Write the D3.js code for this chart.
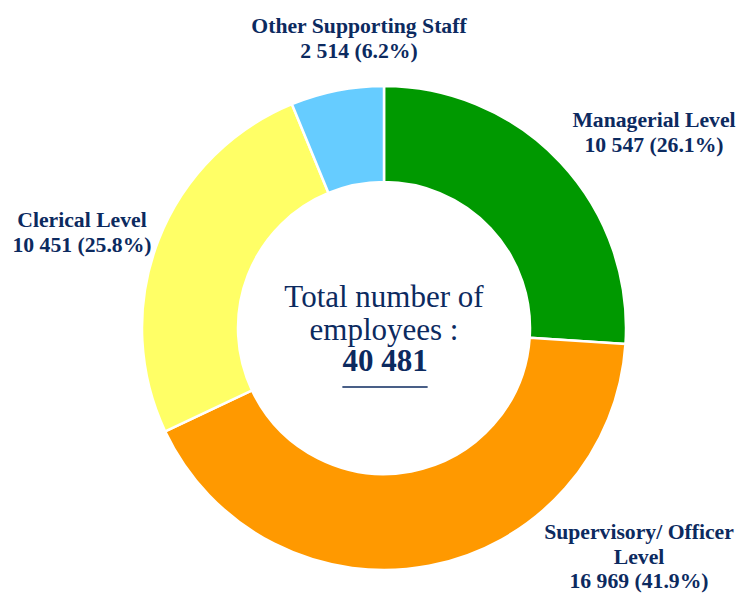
<!DOCTYPE html>
<html>
<head>
<meta charset="utf-8">
<script src="https://cdn.jsdelivr.net/npm/d3@7"></script>
<style>
  html, body { margin: 0; padding: 0; background: #fff; }
  svg { display: block; }
  svg text { font-family: "Liberation Serif", "Times New Roman", Times, serif; }
</style>
</head>
<body>
<div id="chart"></div>
<script>
// Data
const categories = ["Managerial Level", "Supervisory/ Officer Level", "Clerical Level", "Other Supporting Staff"];
const values = [10547, 16969, 10451, 2514];
const colors = ["#009900", "#ff9900", "#ffff66", "#66ccff"];
// how each category name wraps in its label
const nameLines = [["Managerial Level"], ["Supervisory/ Officer", "Level"], ["Clerical Level"], ["Other Supporting Staff"]];

const width = 741, height = 593;
const cx = 384, cy = 328;
const outerR = 242, innerR = 146;
const textColor = "#0c2a5f";

// label anchor (centre x, first baseline y) for each slice
const labelPos = [[654, 127], [639, 539], [82, 227], [359, 33]];

const total = d3.sum(values);
const locale = d3.formatLocale({ decimal: ".", thousands: " ", grouping: [3], currency: ["", ""] });
const fmtNum = locale.format(",d");
const fmtPct = d3.format(".1%");

const svg = d3.select("#chart")
  .append("svg")
  .attr("width", width)
  .attr("height", height);

const g = svg.append("g").attr("transform", `translate(${cx},${cy})`);

const pie = d3.pie().sort(null).value(d => d);
const arc = d3.arc().innerRadius(innerR).outerRadius(outerR);

g.selectAll("path")
  .data(pie(values))
  .join("path")
  .attr("d", arc)
  .attr("fill", (d, i) => colors[i])
  .attr("stroke", "#fff")
  .attr("stroke-width", 2.5)
  .attr("stroke-linejoin", "round");

// slice labels
const labels = svg.append("g")
  .attr("font-weight", "bold")
  .attr("font-size", 21.7)
  .attr("fill", textColor)
  .attr("text-anchor", "middle");

values.forEach((v, i) => {
  const lines = nameLines[i].concat([`${fmtNum(v)} (${fmtPct(v / total)})`]);
  const t = labels.append("text")
    .attr("x", labelPos[i][0])
    .attr("y", labelPos[i][1]);
  lines.forEach((line, j) => {
    t.append("tspan")
      .attr("x", labelPos[i][0])
      .attr("dy", j === 0 ? 0 : 24.5)
      .text(line);
  });
});

// centre text
const centre = svg.append("g")
  .attr("font-size", 31)
  .attr("fill", textColor)
  .attr("text-anchor", "middle");

centre.append("text").attr("x", cx).attr("y", 307).text("Total number of");
centre.append("text").attr("x", cx).attr("y", 340).text("employees :");
const totalText = centre.append("text")
  .attr("x", cx + 1)
  .attr("y", 371)
  .attr("font-weight", "bold")
  .text(fmtNum(total));

// underline under the total
const tw = totalText.node().getComputedTextLength();
centre.append("line")
  .attr("x1", cx + 1 - tw / 2)
  .attr("x2", cx + 1 + tw / 2)
  .attr("y1", 387)
  .attr("y2", 387)
  .attr("stroke", textColor)
  .attr("stroke-width", 1.5);
</script>
</body>
</html>
